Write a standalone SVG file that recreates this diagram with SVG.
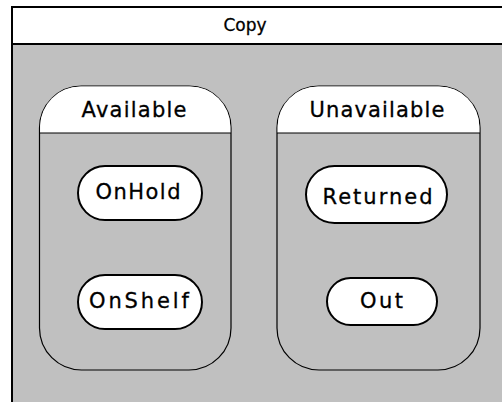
<svg xmlns="http://www.w3.org/2000/svg" width="502" height="402" viewBox="0 0 502 402">
<style>
text{font-family:"DejaVu Sans","Liberation Sans",sans-serif;fill:#000;text-anchor:middle;stroke:#000;stroke-width:0.3}
.st{fill:#c0c0c0;stroke:#000;stroke-width:1.2}
.hd{fill:#fff;stroke:none}
.ln{stroke:#000;stroke-width:1.2}
.nd{fill:#fff;stroke:#000;stroke-width:2}
.lbl{font-size:21px}
</style>
<g id="copy">
<rect x="12" y="7" width="500" height="400" fill="#c0c0c0" stroke="#000" stroke-width="2"/>
<rect x="12" y="7" width="500" height="37" fill="#fff" stroke="#000" stroke-width="2"/>
<text x="245" y="31" font-size="17">Copy</text>
</g>
<g id="available">
<rect class="st" x="39.5" y="86" width="191.5" height="284" rx="42" ry="42"/>
<path class="hd" d="M40.1,133 V126 A40,40 0 0 1 80,86.6 H190.5 A40,40 0 0 1 230.4,126 V133 Z"/>
<line class="ln" x1="39.5" y1="133" x2="231" y2="133"/>
<text class="lbl" x="134" y="117" textLength="105">Available</text>
</g>
<g id="unavailable">
<rect class="st" x="277" y="86" width="203" height="284" rx="42" ry="42"/>
<path class="hd" d="M277.6,133 V126 A40,40 0 0 1 317.5,86.6 H439.5 A40,40 0 0 1 479.4,126 V133 Z"/>
<line class="ln" x1="277" y1="133" x2="480" y2="133"/>
<text class="lbl" x="377" y="117" textLength="135">Unavailable</text>
</g>
<g id="onhold">
<rect class="nd" x="78" y="166" width="124" height="54" rx="27"/>
<text class="lbl" x="138" y="199" textLength="85">OnHold</text>
</g>
<g id="onshelf">
<rect class="nd" x="78" y="275" width="124" height="54" rx="27"/>
<text class="lbl" x="139" y="308" textLength="100">OnShelf</text>
</g>
<g id="returned">
<rect class="nd" x="306" y="166" width="141" height="57" rx="28.5"/>
<text class="lbl" x="377.5" y="204" textLength="110">Returned</text>
</g>
<g id="out">
<rect class="nd" x="327" y="278" width="110" height="47" rx="23.5"/>
<text class="lbl" x="381.5" y="308" textLength="43">Out</text>
</g>
<g id="connectors"/>
</svg>
